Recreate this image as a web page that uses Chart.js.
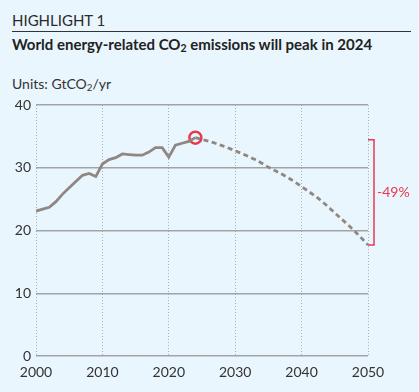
<!DOCTYPE html>
<html>
<head>
<meta charset="utf-8">
<script src="https://cdn.jsdelivr.net/npm/chart.js@4"></script>
<style>
  html, body { margin: 0; padding: 0; background: #eaf6fd; }
  body { width: 419px; height: 392px; position: relative; overflow: hidden; font-family: Lato, "Open Sans", sans-serif; color: #222; }
  #kicker { position: absolute; left: 12px; top: 11px; font-size: 15px; color: #2a2a2a; }
  #rule { position: absolute; left: 12px; top: 31px; width: 399px; height: 1px; background: #333; }
  #title { position: absolute; left: 12px; top: 35px; font-size: 15px; font-weight: bold; }
  #units { position: absolute; left: 12px; top: 75px; font-size: 14px; color: #333; }
  sub { font-size: 0.7em; vertical-align: -0.2em; line-height: 0; }
  #wrap { position: absolute; left: 0; top: 0; width: 419px; height: 392px; }
</style>
</head>
<body>
<div id="kicker">HIGHLIGHT 1</div>
<div id="rule"></div>
<div id="title">World energy-related CO<sub>2</sub> emissions will peak in 2024</div>
<div id="units">Units: GtCO<sub>2</sub>/yr</div>
<div id="wrap"><canvas id="co2Chart"></canvas></div>
<script>
// historical emissions (GtCO2/yr)
var histYears = [2000, 2001, 2002, 2003, 2004, 2005, 2006, 2007, 2008, 2009, 2010, 2011, 2012, 2013, 2014, 2015, 2016, 2017, 2018, 2019, 2020, 2021, 2022, 2023, 2024];
var histValues = [23.1, 23.4, 23.7, 24.6, 25.8, 26.8, 27.8, 28.8, 29.1, 28.6, 30.6, 31.3, 31.6, 32.2, 32.1, 32.0, 32.0, 32.5, 33.2, 33.2, 31.7, 33.6, 33.9, 34.2, 34.8];
// outlook
var projYears = [2024, 2027, 2030, 2033, 2035, 2038, 2040, 2043, 2045, 2048, 2050];
var projValues = [34.8, 33.9, 32.7, 31.3, 30.1, 28.4, 27.0, 24.7, 22.8, 19.9, 17.7];
var peakYear = 2024;
var peakValue = 34.8;
var changeLabel = '-49%';
var yTicks = [0, 10, 20, 30, 40];
var xTicks = [2000, 2010, 2020, 2030, 2040, 2050];

function pts(xs, ys) {
    return xs.map(function (x, i) { return { x: x, y: ys[i] }; });
}

var red = '#e8384f';

var bracketPlugin = {
    id: 'bracket',
    afterDatasetsDraw: function (chart) {
        var ctx = chart.ctx;
        var xs = chart.scales.x, ys = chart.scales.y;
        var x = xs.getPixelForValue(2050) + 6;
        var yTop = ys.getPixelForValue(peakValue) + 2;
        var yBot = ys.getPixelForValue(projValues[projValues.length - 1]);
        ctx.save();
        ctx.strokeStyle = red;
        ctx.lineWidth = 1.5;
        ctx.beginPath();
        ctx.moveTo(x - 6, yTop);
        ctx.lineTo(x, yTop);
        ctx.lineTo(x, yBot);
        ctx.lineTo(x - 6, yBot);
        ctx.stroke();
        ctx.fillStyle = red;
        ctx.font = '14px Lato, "Open Sans", sans-serif';
        ctx.textBaseline = 'middle';
        ctx.textAlign = 'left';
        ctx.fillText(changeLabel, x + 3, (yTop + yBot) / 2);
        ctx.restore();
    }
};

var ctx = document.getElementById('co2Chart').getContext('2d');
var co2Chart = new Chart(ctx, {
    type: 'line',
    data: {
        datasets: [{
            data: pts(histYears, histValues),
            borderColor: '#8f8781',
            borderWidth: 2.8,
            pointRadius: 0,
            tension: 0
        }, {
            data: pts(projYears, projValues),
            borderColor: '#8f8781',
            borderWidth: 2.8,
            borderDash: [5, 3.5],
            pointRadius: 0,
            tension: 0.4,
            cubicInterpolationMode: 'monotone'
        }, {
            data: [{ x: peakYear, y: peakValue }],
            showLine: false,
            pointRadius: 6,
            pointBorderWidth: 2.5,
            pointBorderColor: red,
            pointBackgroundColor: 'rgba(0,0,0,0)'
        }]
    },
    options: {
        responsive: true,
        maintainAspectRatio: false,
        animation: false,
        layout: { padding: { top: 105, right: 51, left: 0, bottom: 0 } },
        plugins: { legend: { display: false }, tooltip: { enabled: false } },
        scales: {
            x: {
                type: 'linear',
                min: 2000,
                max: 2050,
                afterBuildTicks: function (s) { s.ticks = xTicks.map(function (v) { return { value: v }; }); },
                afterFit: function (s) { s.height = 36; },
                border: { display: false, dash: [1, 2] },
                grid: { color: '#a9afb3', lineWidth: 1, drawTicks: false },
                ticks: {
                    color: '#333',
                    font: { size: 14, family: 'Lato' },
                    padding: 8,
                    maxRotation: 0,
                    callback: function (v) { return String(v); }
                }
            },
            y: {
                min: 0,
                max: 40,
                afterBuildTicks: function (s) { s.ticks = yTicks.map(function (v) { return { value: v }; }); },
                afterFit: function (s) { s.width = 36; },
                border: { display: false },
                grid: { color: '#a3a3a3', lineWidth: 1.5, drawTicks: false },
                ticks: { color: '#333', font: { size: 14, family: 'Lato' }, padding: 5 }
            }
        }
    },
    plugins: [bracketPlugin]
});
</script>
</body>
</html>
